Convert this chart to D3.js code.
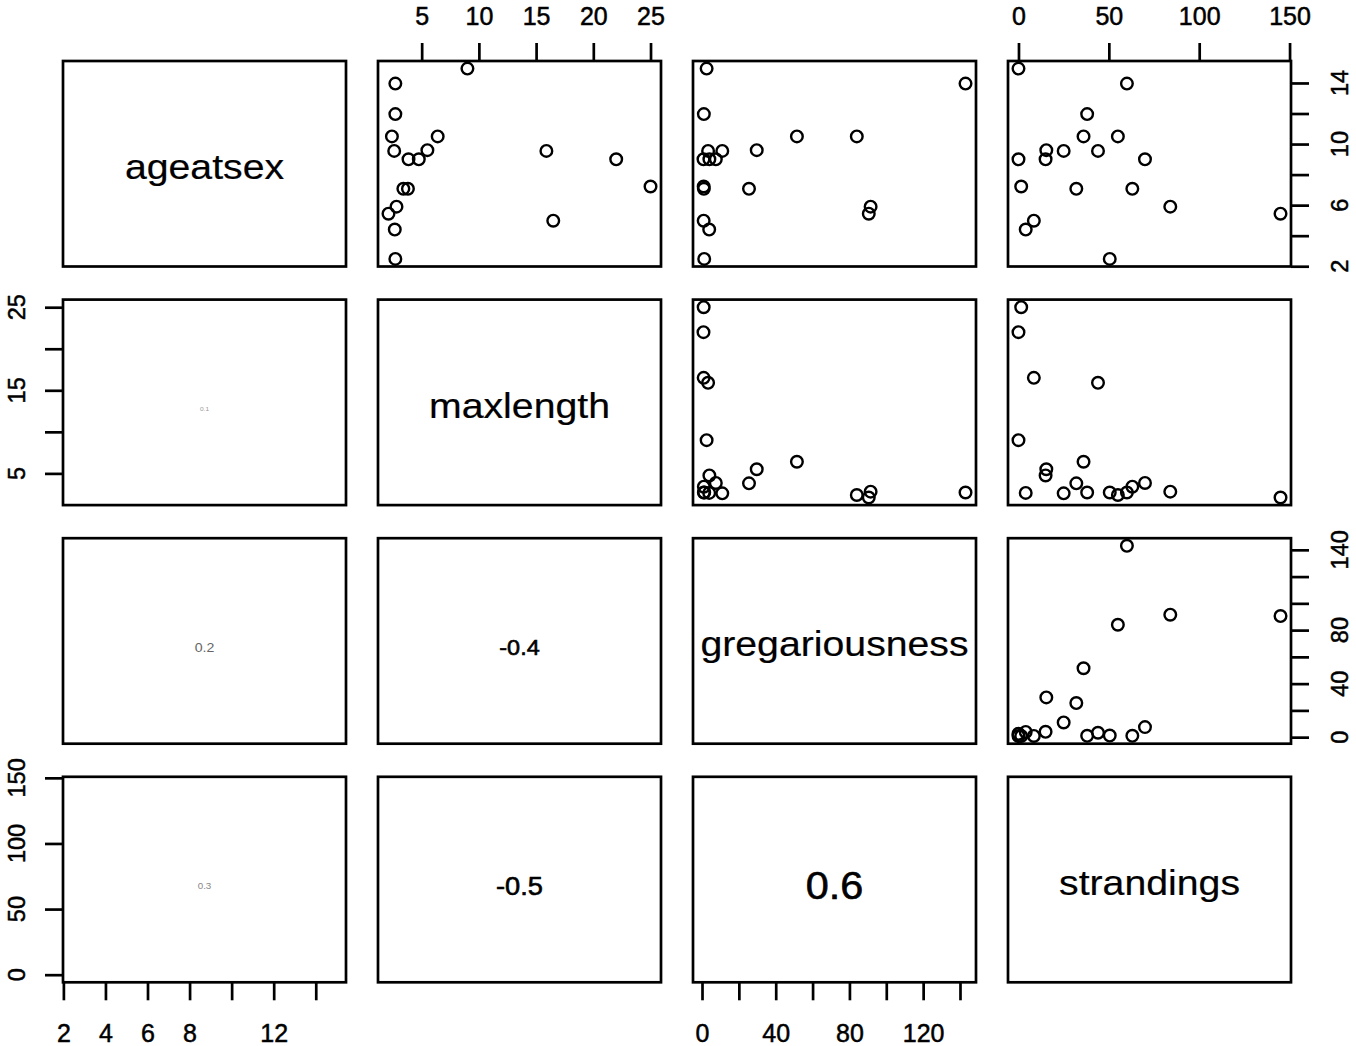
<!DOCTYPE html>
<html><head><meta charset="utf-8">
<script src="https://cdn.jsdelivr.net/npm/d3@7"></script>
<style>
body{margin:0;background:#fff}
text{font-family:"Liberation Sans",Arial,sans-serif;fill:#000}
</style>
</head><body>
<svg id="chart" width="1356" height="1046"></svg>
<script>
// ---- data ----
const variables = ["ageatsex", "maxlength", "gregariousness", "strandings"];
const ageatsex = [14.94, 13.96, 11.96, 10.5, 10.5, 9.6, 9.55, 9.55, 9.0, 9.0, 9.0, 7.22, 7.07, 7.07, 5.9, 5.44, 4.98, 4.4, 2.48];
const maxlength = [9.0, 2.7, 2.7, 6.4, 2.4, 5.5, 2.6, 15.9, 4.75, 22.0, 3.85, 25.0, 3.8, 3.4, 2.8, 2.1, 16.5, 2.65, 2.7];
const gregariousness = [2.5, 143, 1.0, 51.5, 84, 29.7, 11, 3.3, 4, 0.8, 7.5, 0.9, 25.5, 1.0, 91.5, 90.5, 0.9, 3.9, 1.2];
const strandings = [0, 60, 38, 36, 55, 15.4, 25, 44, 15, 0, 70, 1.5, 32, 63, 84, 145, 8.5, 4, 50.5];

const ticksAgeatsex = [2, 4, 6, 8, 10, 12, 14];
const ticksMaxlength = [5, 10, 15, 20, 25];
const ticksGregariousness = [0, 20, 40, 60, 80, 100, 120, 140];
const ticksStrandings = [0, 50, 100, 150];

const labelsBottomAgeatsex = [2, 4, 6, 8, 12];
const labelsRightAgeatsex = [2, 6, 10, 14];
const labelsTopMaxlength = [5, 10, 15, 20, 25];
const labelsLeftMaxlength = [5, 15, 25];
const labelsBottomGregariousness = [0, 40, 80, 120];
const labelsRightGregariousness = [0, 40, 80, 140];
const labelsTopStrandings = [0, 50, 100, 150];
const labelsLeftStrandings = [0, 50, 100, 150];

// lower-panel correlation texts: [row variable, column variable, text]
const correlations = [
  ["maxlength", "ageatsex", "0.1"],
  ["gregariousness", "ageatsex", "0.2"],
  ["strandings", "ageatsex", "0.3"],
  ["gregariousness", "maxlength", "-0.4"],
  ["strandings", "maxlength", "-0.5"],
  ["strandings", "gregariousness", "0.6"]
];

// ---- layout ----
const X0 = 63, SX = 315, W = 283;
const Y0 = 61, SY = 238.6, H = 205.5;
const N = variables.length;
const series = [ageatsex, maxlength, gregariousness, strandings];
const ticks = [ticksAgeatsex, ticksMaxlength, ticksGregariousness, ticksStrandings];

function padded(arr) {
  const [a, b] = d3.extent(arr);
  const p = (b - a) * 0.04;
  return [a - p, b + p];
}
const xs = series.map((arr, j) => d3.scaleLinear().domain(padded(arr)).range([X0 + j * SX, X0 + j * SX + W]));
const ys = series.map((arr, i) => d3.scaleLinear().domain(padded(arr)).range([Y0 + i * SY + H, Y0 + i * SY]));

const svg = d3.select("#chart");
const TICK = 18, FS = 23.5, FSH = 25, SW = 2.7;
const HS = 1.09; // horizontal stretch of text in the reference

function centerText(cx, cy, txt, fs, color, baselineOffset, weight) {
  svg.append("text")
    .attr("transform", `translate(${cx},${cy + baselineOffset}) scale(${HS},1)`)
    .attr("text-anchor", "middle")
    .style("font-size", fs + "px")
    .style("fill", color)
    .style("stroke", color)
    .style("stroke-width", weight)
    .text(txt);
}

// panels
for (let i = 0; i < N; i++) {
  for (let j = 0; j < N; j++) {
    const x0 = xs[j].range()[0], x1 = xs[j].range()[1];
    const y0 = ys[i].range()[1], y1 = ys[i].range()[0];
    const cx = (x0 + x1) / 2, cy = (y0 + y1) / 2;
    if (i < j) {
      const g = svg.append("g");
      g.selectAll("circle")
        .data(d3.range(series[j].length))
        .join("circle")
        .attr("cx", k => xs[j](series[j][k]))
        .attr("cy", k => ys[i](series[i][k]))
        .attr("r", 5.8)
        .attr("fill", "none")
        .attr("stroke", "#000")
        .attr("stroke-width", 2.4);
    } else if (i === j) {
      centerText(cx, cy, variables[i], 36, "#000", 15.5, 0.2);
    } else {
      const c = correlations.find(d => d[0] === variables[i] && d[1] === variables[j]);
      const key = c[2];
      const sizes = {"0.1": 6, "0.2": 13, "0.3": 9, "-0.4": 21.5, "-0.5": 25, "0.6": 38};
      const cols = {"0.1": "#999", "0.2": "#666", "0.3": "#888", "-0.4": "#000", "-0.5": "#000", "0.6": "#000"};
      const fs = sizes[key];
      centerText(cx, cy, key, fs, cols[key], 0.36 * fs + 6, fs > 15 ? 0.6 : 0);
    }
    svg.append("rect")
      .attr("x", x0).attr("y", y0)
      .attr("width", x1 - x0).attr("height", y1 - y0)
      .attr("fill", "none").attr("stroke", "#000").attr("stroke-width", SW);
  }
}

function styleAxis(g) {
  g.select(".domain").remove();
  g.selectAll(".tick line").attr("stroke", "#000").attr("stroke-width", SW);
  g.selectAll(".tick text").style("font-size", FSH + "px").style("fill", "#000")
    .style("stroke", "#000").style("stroke-width", 0.5)
    .attr("font-family", "Liberation Sans, Arial, sans-serif");
}

// top axes (columns 2 and 4)
[[1, labelsTopMaxlength], [3, labelsTopStrandings]].forEach(([j, labs]) => {
  const g = svg.append("g").attr("transform", `translate(0,${Y0})`)
    .call(d3.axisTop(xs[j]).tickValues(ticks[j]).tickSize(TICK).tickPadding(18)
      .tickFormat(d => labs.includes(d) ? String(d) : ""));
  styleAxis(g);
});
// bottom axes (columns 1 and 3)
const bottomY = Y0 + (N - 1) * SY + H;
[[0, labelsBottomAgeatsex], [2, labelsBottomGregariousness]].forEach(([j, labs]) => {
  const g = svg.append("g").attr("transform", `translate(0,${bottomY})`)
    .call(d3.axisBottom(xs[j]).tickValues(ticks[j]).tickSize(TICK).tickPadding(24)
      .tickFormat(d => labs.includes(d) ? String(d) : ""));
  styleAxis(g);
});
function rotLabel(bx, y, v) {
  svg.append("text").attr("x", bx).attr("y", y)
    .attr("transform", `rotate(-90,${bx},${y})`)
    .attr("text-anchor", "middle").style("font-size", FS + "px")
    .style("stroke", "#000").style("stroke-width", 0.5).text(v);
}
// left axes (rows 2 and 4)
[[1, labelsLeftMaxlength], [3, labelsLeftStrandings]].forEach(([i, labs]) => {
  const g = svg.append("g").attr("transform", `translate(${X0},0)`)
    .call(d3.axisLeft(ys[i]).tickValues(ticks[i]).tickSize(TICK).tickFormat(""));
  styleAxis(g);
  labs.forEach(v => rotLabel(25, ys[i](v), v));
});
// right axes (rows 1 and 3)
const rightX = X0 + (N - 1) * SX + W;
[[0, labelsRightAgeatsex], [2, labelsRightGregariousness]].forEach(([i, labs]) => {
  const g = svg.append("g").attr("transform", `translate(${rightX},0)`)
    .call(d3.axisRight(ys[i]).tickValues(ticks[i]).tickSize(TICK).tickFormat(""));
  styleAxis(g);
  labs.forEach(v => rotLabel(1348, ys[i](v), v));
});
</script>
</body></html>
